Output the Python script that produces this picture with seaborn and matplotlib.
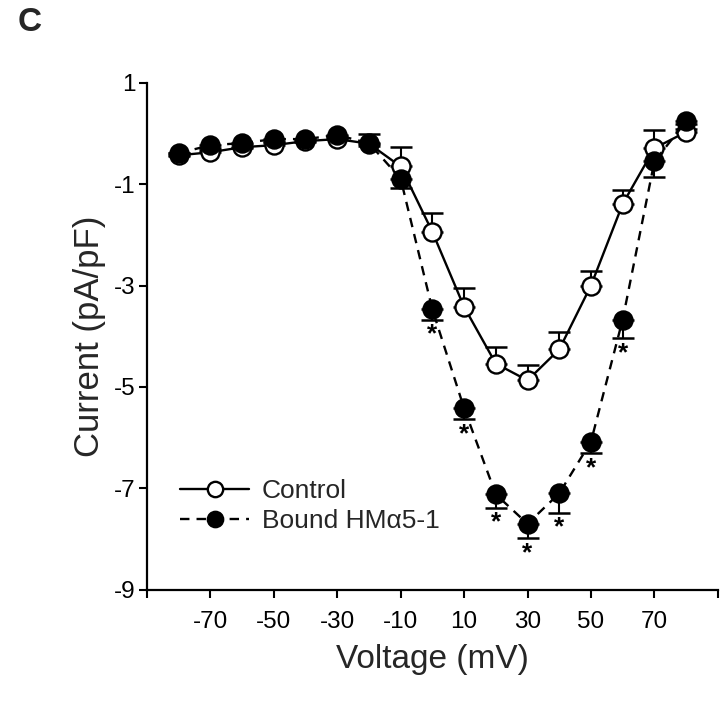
import matplotlib
matplotlib.use("Agg")
import matplotlib.pyplot as plt
import seaborn as sns
import pandas as pd

# Current-voltage data
voltage = [-80, -70, -60, -50, -40, -30, -20, -10, 0, 10, 20, 30, 40, 50, 60, 70, 80]
control = [-0.43, -0.37, -0.27, -0.23, -0.15, -0.11, -0.20, -0.65, -1.94, -3.42,
           -4.54, -4.87, -4.26, -3.00, -1.39, -0.29, 0.03]
control_sem = [0.05, 0.08, 0.06, 0.06, 0.05, 0.06, 0.20, 0.38, 0.38, 0.38,
               0.32, 0.30, 0.34, 0.28, 0.28, 0.35, 0.05]
bound = [-0.39, -0.23, -0.19, -0.11, -0.11, -0.03, -0.19, -0.89, -3.47, -5.42,
         -7.12, -7.70, -7.10, -6.08, -3.67, -0.55, 0.24]
bound_sem = [0.05, 0.10, 0.10, 0.05, 0.05, 0.05, 0.05, 0.18, 0.20, 0.22,
             0.26, 0.28, 0.38, 0.22, 0.36, 0.30, 0.05]
significant = [0, 10, 20, 30, 40, 50, 60]

x_ticks = [-90, -70, -50, -30, -10, 10, 30, 50, 70, 90]
x_tick_labels = ["", "-70", "-50", "-30", "-10", "10", "30", "50", "70", ""]
y_ticks = [1, -1, -3, -5, -7, -9]

df = pd.DataFrame({"voltage": voltage, "control": control, "control_sem": control_sem,
                   "bound": bound, "bound_sem": bound_sem})

sns.set_style("ticks")
plt.rcParams["font.family"] = ["Liberation Sans", "DejaVu Sans"]
plt.rcParams["axes.unicode_minus"] = False

fig = plt.figure(figsize=(7.2, 7.02), dpi=100)
ax = fig.add_axes([0.204, 0.16, 0.793, 0.722])

zeros = [0] * len(voltage)
# one-sided error bars: control up, bound down
ax.errorbar(df["voltage"], df["control"], yerr=[zeros, df["control_sem"]], fmt="none",
            ecolor="black", elinewidth=1.5, capsize=8, capthick=1.8, zorder=2)
ax.errorbar(df["voltage"], df["bound"], yerr=[df["bound_sem"], zeros], fmt="none",
            ecolor="black", elinewidth=1.5, capsize=8, capthick=1.8, zorder=2)

sns.lineplot(data=df, x="voltage", y="control", ax=ax, color="black", linewidth=1.7,
             marker="o", markersize=13, markerfacecolor="white", markeredgecolor="black",
             markeredgewidth=1.7, label="Control", zorder=3)
sns.lineplot(data=df, x="voltage", y="bound", ax=ax, color="black", linewidth=1.7,
             linestyle=(0, (4, 3)), marker="o", markersize=13, markerfacecolor="black",
             markeredgecolor="black", markeredgewidth=1.7, label="Bound HMα5-1", zorder=4)

# asterisks under the significant bound points
for v in significant:
    row = df[df["voltage"] == v].iloc[0]
    ax.text(v, row["bound"] - row["bound_sem"] - 0.06, "*", ha="center", va="top",
            fontsize=19, fontweight="bold", color="black")

ax.set_xlim(-90, 90)
ax.set_ylim(-9, 1)
ax.set_xticks(x_ticks)
ax.set_xticklabels(x_tick_labels)
ax.set_yticks(y_ticks)
ax.tick_params(axis="both", labelsize=17.5, length=6, width=1.5, color="black",
               labelcolor="black", direction="out")
ax.tick_params(axis="x", pad=9)
ax.tick_params(axis="y", pad=2)
for side in ["left", "bottom"]:
    ax.spines[side].set_linewidth(1.6)
    ax.spines[side].set_color("black")
sns.despine(ax=ax)

ax.set_xlabel("Voltage (mV)", fontsize=24, labelpad=8)
ax.set_ylabel("Current (pA/pF)", fontsize=25, labelpad=6)

ax.legend(loc="center left", bbox_to_anchor=(0.04, 0.165), frameon=False, fontsize=19,
          handlelength=2.6, handletextpad=0.5, labelspacing=0.25, borderaxespad=0,
          markerscale=0.85)

fig.text(0.025, 0.99, "C", fontsize=24, fontweight="bold", va="top", ha="left")

plt.savefig("out.png", dpi=100)
